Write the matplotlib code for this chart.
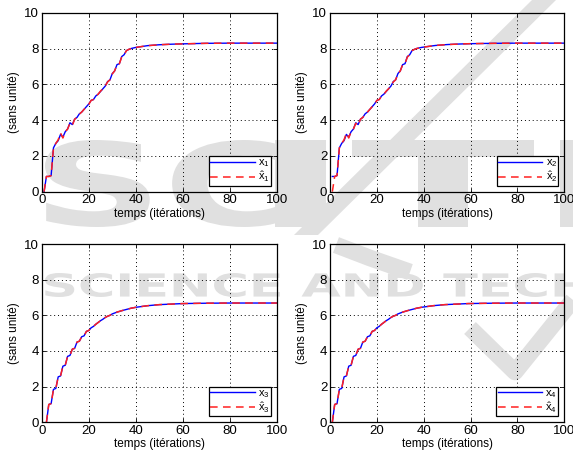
import numpy as np
import matplotlib
matplotlib.use("Agg")
import matplotlib.pyplot as plt
from matplotlib.textpath import TextPath
from matplotlib.font_manager import FontProperties
from matplotlib.patches import PathPatch, Polygon
from matplotlib.lines import Line2D
from matplotlib.transforms import Affine2D

plt.rcParams['font.family'] = ['Liberation Sans', 'DejaVu Sans']
plt.rcParams['mathtext.fontset'] = 'custom'
plt.rcParams['mathtext.rm'] = 'Liberation Sans'
plt.rcParams['mathtext.it'] = 'Liberation Sans:italic'

# ---- data (iterations, state values) ----
t1 = [1, 2, 3, 4, 5, 6, 7, 8, 9, 10, 11, 12, 13, 14, 15, 16, 17, 18, 19, 20,
      21, 22, 23, 24, 25, 26, 27, 28, 29, 30, 31, 32, 33, 34, 35, 36, 37, 38,
      39, 40, 41, 45, 50, 55, 60, 70, 80, 90, 100]
x1 = [0.0, 0.85, 0.85, 0.9, 2.45, 2.7, 2.85, 3.2, 3.05, 3.35, 3.5, 3.85, 3.75,
      4.05, 4.15, 4.35, 4.45, 4.6, 4.75, 4.9, 5.1, 5.15, 5.35, 5.45, 5.6, 5.75,
      5.9, 6.15, 6.25, 6.6, 6.75, 7.1, 7.15, 7.55, 7.65, 7.88, 7.95, 8.0, 8.03,
      8.06, 8.08, 8.16, 8.21, 8.24, 8.26, 8.29, 8.3, 8.3, 8.3]
x1_hat = [0.0, 0.85, 0.85, 0.9, 2.45, 2.7, 2.9, 3.28, 3.0, 3.35, 3.5, 3.82, 3.7,
          4.05, 4.15, 4.33, 4.45, 4.6, 4.75, 4.88, 5.1, 5.15, 5.33, 5.45, 5.62,
          5.75, 5.9, 6.13, 6.25, 6.58, 6.75, 7.1, 7.15, 7.52, 7.65, 7.88, 7.95,
          8.0, 8.03, 8.06, 8.08, 8.16, 8.21, 8.24, 8.26, 8.29, 8.3, 8.3, 8.3]

t2 = [1, 2, 3, 4, 5, 6, 7, 8, 9, 10, 11, 12, 13, 14, 15, 16, 17, 18, 19, 20,
      21, 22, 23, 24, 25, 26, 27, 28, 29, 30, 31, 32, 33, 34, 35, 36, 37, 38,
      39, 40, 45, 50, 55, 60, 70, 80, 90, 100]
x2 = [0.85, 0.85, 0.9, 2.45, 2.7, 2.85, 3.2, 3.05, 3.35, 3.5, 3.85, 3.75,
      4.05, 4.15, 4.35, 4.45, 4.6, 4.75, 4.9, 5.1, 5.15, 5.35, 5.45, 5.6, 5.75,
      5.9, 6.15, 6.25, 6.6, 6.75, 7.1, 7.15, 7.55, 7.65, 7.88, 7.95, 8.0, 8.03,
      8.06, 8.08, 8.17, 8.22, 8.25, 8.27, 8.29, 8.3, 8.3, 8.3]
x2_hat = [0.0, 0.85, 0.9, 2.45, 2.7, 2.9, 3.28, 3.0, 3.35, 3.5, 3.82, 3.7,
          4.05, 4.15, 4.33, 4.45, 4.6, 4.75, 4.88, 5.1, 5.15, 5.33, 5.45, 5.62,
          5.75, 5.9, 6.13, 6.25, 6.58, 6.75, 7.1, 7.15, 7.52, 7.65, 7.88, 7.95,
          8.0, 8.03, 8.06, 8.08, 8.17, 8.22, 8.25, 8.27, 8.29, 8.3, 8.3, 8.3]

t3 = [2, 3, 4, 5, 6, 7, 8, 9, 10, 11, 12, 13, 14, 15, 16, 17, 18, 19, 20, 21,
      22, 23, 24, 25, 26, 27, 28, 29, 30, 32, 34, 36, 38, 40, 45, 50, 55, 60,
      70, 80, 100]
x3 = [0.0, 1.0, 1.05, 1.85, 1.9, 2.55, 2.6, 3.15, 3.2, 3.7, 3.75, 4.1, 4.15,
      4.5, 4.55, 4.8, 4.85, 5.1, 5.15, 5.3, 5.38, 5.5, 5.6, 5.7, 5.78, 5.88,
      5.95, 6.0, 6.08, 6.18, 6.26, 6.33, 6.4, 6.45, 6.54, 6.6, 6.63, 6.66,
      6.68, 6.69, 6.69]
x3_hat = [0.0, 1.0, 1.05, 1.85, 1.9, 2.55, 2.6, 3.15, 3.2, 3.7, 3.75, 4.1,
          4.15, 4.5, 4.55, 4.8, 4.85, 5.1, 5.15, 5.3, 5.38, 5.5, 5.6, 5.7,
          5.78, 5.88, 5.95, 6.0, 6.08, 6.18, 6.26, 6.33, 6.4, 6.45, 6.54, 6.6,
          6.63, 6.66, 6.68, 6.69, 6.69]

t4 = [1, 2, 3, 4, 5, 6, 7, 8, 9, 10, 11, 12, 13, 14, 15, 16, 17, 18, 19, 20,
      21, 22, 23, 24, 25, 26, 27, 28, 29, 31, 33, 35, 37, 39, 44, 49, 54, 59,
      69, 79, 100]
x4 = x3
x4_hat = x3_hat

panels = [
    (t1, x1, x1_hat, '1'),
    (t2, x2, x2_hat, '2'),
    (t3, x3, x3_hat, '3'),
    (t4, x4, x4_hat, '4'),
]
positions = [
    [0.0728, 0.5824, 0.4106, 0.3899],
    [0.5759, 0.5824, 0.4090, 0.3899],
    [0.0728, 0.0799, 0.4106, 0.3885],
    [0.5759, 0.0799, 0.4090, 0.3885],
]

fig = plt.figure(figsize=(5.73, 4.59), dpi=100)

# ---- publisher watermark behind the axes (display pixel coords) ----
wm = '#e0e0e0'
H = 459


def add_text_path(s, x0, x1, y_top, y_bot, weight='bold'):
    tp = TextPath((0, 0), s, size=100,
                  prop=FontProperties(family='DejaVu Sans', weight=weight))
    bb = tp.get_extents()
    sx = (x1 - x0) / bb.width
    sy = (y_bot - y_top) / bb.height
    tr = Affine2D().translate(-bb.x0, -bb.y0).scale(sx, sy).translate(x0, H - y_bot)
    fig.add_artist(PathPatch(tr.transform_path(tp), facecolor=wm,
                             edgecolor='none', transform=None, zorder=-5))


add_text_path('SC', 45, 285, 140, 227)
add_text_path('ITE', 275, 700, 140, 227)
add_text_path('SCIENCE AND TECHNOLOGY', 45, 830, 273, 297)
fig.add_artist(Polygon([(532, H - 0), (556, H - 0), (318, H - 235), (294, H - 235)],
                       closed=True, facecolor=wm, edgecolor='none',
                       transform=None, zorder=-5))
fig.add_artist(Line2D([336, 370, 410], [H - 245, H - 258, H - 272],
                      color=wm, lw=12, solid_capstyle='butt', transform=None, zorder=-5))
fig.add_artist(Line2D([470, 515, 573], [H - 328, H - 372, H - 300],
                      color=wm, lw=12, solid_capstyle='butt', transform=None, zorder=-5))

for (t, x, xh, k), pos in zip(panels, positions):
    ax = fig.add_axes(pos)
    ax.patch.set_alpha(0)
    ax.plot(t, x, color='#0000ff', lw=1.0, label=r'$\mathrm{x}_{%s}$' % k)
    ax.plot(t, xh, color='#ff2020', lw=1.1, ls=(0, (5, 3.5)),
            label=r'$\hat{\mathrm{x}}_{%s}$' % k)
    ax.set_xlim(0, 100)
    ax.set_ylim(0, 10)
    ax.set_xticks([0, 20, 40, 60, 80, 100])
    ax.set_yticks([0, 2, 4, 6, 8, 10])
    ax.grid(True, color='k', ls=(0, (1, 3)), lw=0.7)
    ax.tick_params(direction='in', length=3, width=0.6, labelsize=9.5,
                   top=True, right=True, pad=2)
    for sp in ax.spines.values():
        sp.set_linewidth(0.9)
    ax.set_xlabel('temps (itérations)', fontsize=8.5, labelpad=1)
    ax.set_ylabel('(sans unité)', fontsize=8.5, labelpad=3)
    leg = ax.legend(loc='lower right', fontsize=8, handlelength=4.0,
                    handletextpad=0.3, borderpad=0.1, labelspacing=0.05,
                    borderaxespad=0.55, fancybox=False, framealpha=1)
    leg.get_frame().set_edgecolor('k')
    leg.get_frame().set_linewidth(0.9)

fig.savefig('out.png', dpi=100)
